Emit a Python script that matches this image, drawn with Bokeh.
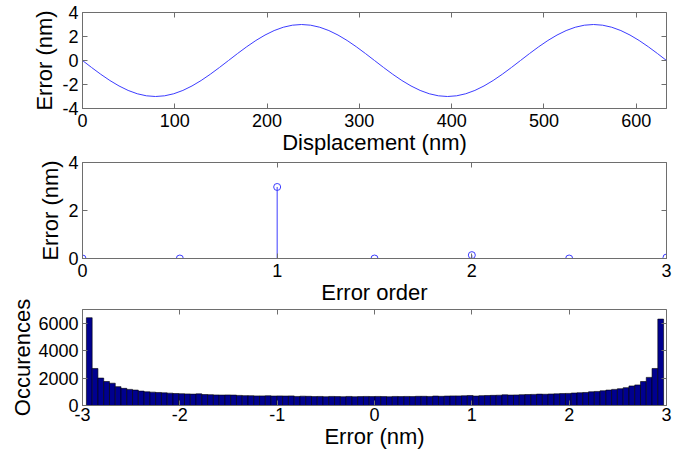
import numpy as np
from bokeh.plotting import figure
from bokeh.layouts import column
from bokeh.models import FixedTicker, LinearAxis, Range1d
from bokeh.embed import file_html
from bokeh.resources import INLINE

# ---------------- data ----------------
# Panel 1: periodic error vs displacement (sampled every 1/32 period)
disp_start, disp_end = 0.0, 632.8
error_nm = [0.0, -0.585, -1.148, -1.667, -2.121, -2.494, -2.772, -2.942, -3.0,
            -2.942, -2.772, -2.494, -2.121, -1.667, -1.148, -0.585, 0.0,
            0.585, 1.148, 1.667, 2.121, 2.494, 2.772, 2.942, 3.0,
            2.942, 2.772, 2.494, 2.121, 1.667, 1.148, 0.585, 0.0,
            -0.585, -1.148, -1.667, -2.121, -2.494, -2.772, -2.942, -3.0,
            -2.942, -2.772, -2.494, -2.121, -1.667, -1.148, -0.585, 0.0,
            0.585, 1.148, 1.667, 2.121, 2.494, 2.772, 2.942, 3.0,
            2.942, 2.772, 2.494, 2.121, 1.667, 1.148, 0.585, 0.0]
displacement = np.linspace(disp_start, disp_end, len(error_nm))

# Panel 2: error amplitude per error order (stem plot)
orders = [0, 0.5, 1, 1.5, 2, 2.5, 3]
order_amp = [0.0, 0.0, 2.98, 0.0, 0.14, 0.0, 0.04]

# Panel 3: histogram of error values (100 bins)
hist_lo, hist_hi = -2.96, 2.97
counts = [6400, 2700, 2000, 1750, 1625, 1375, 1250, 1175, 1125, 1050,
          1000, 975, 950, 925, 900, 875, 860, 845, 830, 850,
          800, 790, 770, 760, 770, 760, 735, 720, 715, 700,
          700, 710, 690, 700, 690, 700, 660, 680, 670, 650,
          660, 640, 660, 650, 640, 660, 640, 650, 660, 650,
          660, 650, 640, 660, 650, 660, 650, 670, 670, 660,
          690, 670, 690, 700, 700, 710, 730, 690, 720, 730,
          740, 750, 780, 760, 770, 790, 800, 810, 830, 820,
          840, 850, 870, 880, 910, 930, 950, 1000, 1025, 1075,
          1125, 1175, 1225, 1300, 1425, 1500, 1750, 2050, 2700, 6300]
edges = np.linspace(hist_lo, hist_hi, len(counts) + 1)

# ---------------- styling helpers ----------------
FONT = "Liberation Sans"
TICK_FS = "18px"
LABEL_FS = "22px"
BOX = "#6e6e6e"
W = 682


def plain(ticks):
    # MATLAB-style labels with ASCII hyphen as minus sign
    return {t: ("%g" % t) for t in ticks}


def style(p, xticks, yticks, xlabel, ylabel, xtick_standoff, ylab_standoff):
    p.xgrid.visible = False
    p.ygrid.visible = False
    p.outline_line_color = BOX
    p.outline_line_width = 1
    p.background_fill_color = "white"
    p.border_fill_color = None
    for ax in p.xaxis + p.yaxis:
        ax.axis_line_color = BOX
        ax.major_tick_line_color = BOX
        ax.major_tick_in = 5
        ax.major_tick_out = 0
        ax.minor_tick_line_color = None
        ax.major_label_text_font = FONT
        ax.major_label_text_font_size = TICK_FS
        ax.major_label_text_color = "black"
        ax.axis_label_text_font = FONT
        ax.axis_label_text_font_size = LABEL_FS
        ax.axis_label_text_font_style = "normal"
        ax.axis_label_text_color = "black"
    p.xaxis.ticker = FixedTicker(ticks=xticks)
    p.yaxis.ticker = FixedTicker(ticks=yticks)
    p.xaxis.major_label_overrides = plain(xticks)
    p.yaxis.major_label_overrides = plain(yticks)
    p.xaxis.axis_label = xlabel
    p.yaxis.axis_label = ylabel
    p.xaxis.major_label_standoff = xtick_standoff
    p.xaxis.axis_label_standoff = 0
    p.yaxis.major_label_standoff = 4
    p.yaxis.axis_label_standoff = ylab_standoff
    # mirrored ticks on top and right (MATLAB box style), no labels
    top = LinearAxis(ticker=FixedTicker(ticks=xticks))
    right = LinearAxis(ticker=FixedTicker(ticks=yticks))
    for ax in (top, right):
        ax.axis_line_color = None
        ax.major_tick_line_color = BOX
        ax.major_tick_in = 5
        ax.major_tick_out = 0
        ax.minor_tick_line_color = None
        ax.major_label_text_color = None
        ax.major_label_text_font_size = "1px"
        ax.major_label_standoff = 0
    p.add_layout(top, "above")
    p.add_layout(right, "right")


# ---------------- panel 1 ----------------
p1 = figure(width=W, height=160, output_backend="svg", toolbar_location=None,
            x_range=Range1d(disp_start, disp_end), y_range=Range1d(-4, 4),
            min_border_left=82, min_border_right=16, min_border_top=12,
            min_border_bottom=52)
p1.line(displacement, error_nm, line_color="#3c3cff", line_width=1)
style(p1, [0, 100, 200, 300, 400, 500, 600], [-4, -2, 0, 2, 4],
      "Displacement (nm)", "Error (nm)", 5, 2)

# ---------------- panel 2 ----------------
p2 = figure(width=W, height=160, output_backend="svg", toolbar_location=None,
            x_range=Range1d(0, 3), y_range=Range1d(0, 4),
            min_border_left=82, min_border_right=16, min_border_top=14,
            min_border_bottom=50)
p2.margin = (-12, 0, 0, 0)
p2.segment(x0=orders, y0=[0] * len(orders), x1=orders, y1=order_amp,
           line_color="#3c3cff", line_width=1)
p2.scatter(orders, order_amp, marker="circle", size=7, fill_color=None,
           line_color="#3c3cff", line_width=1)
style(p2, [0, 1, 2, 3], [0, 2, 4], "Error order", "Error (nm)", 5, 2)

# ---------------- panel 3 ----------------
p3 = figure(width=W, height=163, output_backend="svg", toolbar_location=None,
            x_range=Range1d(-3, 3), y_range=Range1d(0, 7000),
            min_border_left=82, min_border_right=16, min_border_top=20,
            min_border_bottom=47)
p3.margin = (-19, 0, 0, 0)
p3.quad(left=edges[:-1], right=edges[1:], bottom=0, top=counts,
        fill_color="#00008f", line_color="black", line_width=0.6)
style(p3, [-3, -2, -1, 0, 1, 2, 3], [0, 2000, 4000, 6000],
      "Error (nm)", "Occurences", 2, 0)

layout = column(p1, p2, p3, spacing=0)

open("out.html", "w").write(file_html(layout, INLINE))
